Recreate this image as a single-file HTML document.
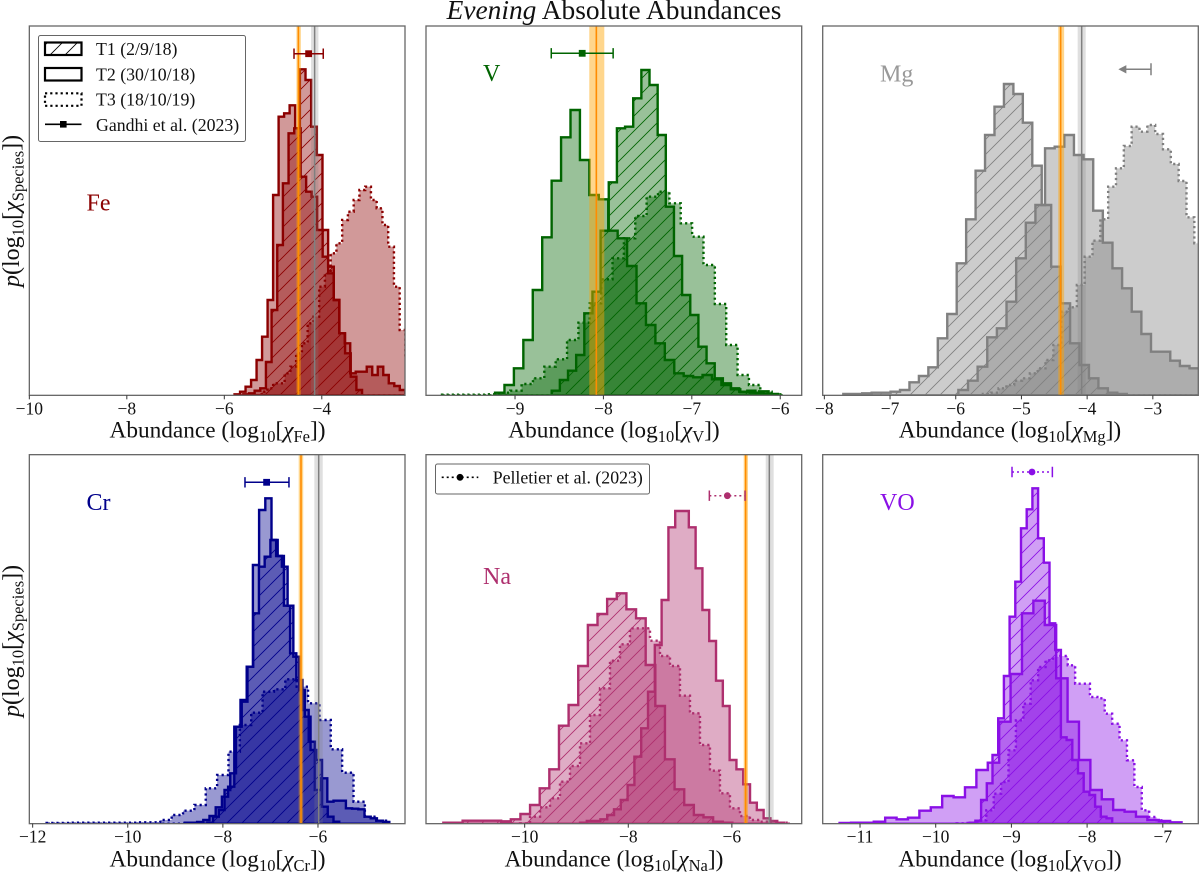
<!DOCTYPE html>
<html lang="en">
<head>
<meta charset="utf-8">
<title>Evening Absolute Abundances</title>
<style>
html,body{margin:0;padding:0;background:#fff;}
svg{display:block;}
text{font-family:"Liberation Serif",serif;fill:#111;}
.tick{font-size:17.5px;}
.xl{font-size:23.3px;}
.yl{font-size:24px;}
.leg{font-size:17.8px;}
.sp{font-size:24px;}
</style>
</head>
<body>
<svg id="figure" xmlns="http://www.w3.org/2000/svg" width="1200" height="873" viewBox="0 0 1200 873">
<defs id="defs"></defs>
<rect x="0" y="0" width="1200" height="873" fill="#fff"/>
<g id="plots"></g>

<text x="614" y="19" text-anchor="middle" font-size="27.4"><tspan font-style="italic">Evening</tspan> Absolute Abundances</text>

<text class="yl" transform="translate(19,287) rotate(-90)"><tspan font-style="italic">p</tspan>(log<tspan dy="4.5" font-size="16.5">10</tspan><tspan dy="-4.5">[</tspan><tspan font-style="italic">χ</tspan><tspan dy="4.5" font-size="16.5">Species</tspan><tspan dy="-4.5">])</tspan></text>
<text class="yl" transform="translate(19,717) rotate(-90)"><tspan font-style="italic">p</tspan>(log<tspan dy="4.5" font-size="16.5">10</tspan><tspan dy="-4.5">[</tspan><tspan font-style="italic">χ</tspan><tspan dy="4.5" font-size="16.5">Species</tspan><tspan dy="-4.5">])</tspan></text>

<text class="xl" x="217.5" y="437.5" text-anchor="middle">Abundance (log<tspan dy="4.5" font-size="16.5">10</tspan><tspan dy="-4.5">[</tspan><tspan font-style="italic">χ</tspan><tspan dy="4.5" font-size="16.5">Fe</tspan><tspan dy="-4.5">])</tspan></text>
<text class="xl" x="614" y="437.5" text-anchor="middle">Abundance (log<tspan dy="4.5" font-size="16.5">10</tspan><tspan dy="-4.5">[</tspan><tspan font-style="italic">χ</tspan><tspan dy="4.5" font-size="16.5">V</tspan><tspan dy="-4.5">])</tspan></text>
<text class="xl" x="1010" y="437.5" text-anchor="middle">Abundance (log<tspan dy="4.5" font-size="16.5">10</tspan><tspan dy="-4.5">[</tspan><tspan font-style="italic">χ</tspan><tspan dy="4.5" font-size="16.5">Mg</tspan><tspan dy="-4.5">])</tspan></text>
<text class="xl" x="217.5" y="866.5" text-anchor="middle">Abundance (log<tspan dy="4.5" font-size="16.5">10</tspan><tspan dy="-4.5">[</tspan><tspan font-style="italic">χ</tspan><tspan dy="4.5" font-size="16.5">Cr</tspan><tspan dy="-4.5">])</tspan></text>
<text class="xl" x="614" y="866.5" text-anchor="middle">Abundance (log<tspan dy="4.5" font-size="16.5">10</tspan><tspan dy="-4.5">[</tspan><tspan font-style="italic">χ</tspan><tspan dy="4.5" font-size="16.5">Na</tspan><tspan dy="-4.5">])</tspan></text>
<text class="xl" x="1010" y="866.5" text-anchor="middle">Abundance (log<tspan dy="4.5" font-size="16.5">10</tspan><tspan dy="-4.5">[</tspan><tspan font-style="italic">χ</tspan><tspan dy="4.5" font-size="16.5">VO</tspan><tspan dy="-4.5">])</tspan></text>

<text class="sp" x="86.5" y="210.5" style="fill:#8b0000">Fe</text>
<text class="sp" x="483" y="81" style="fill:#006400">V</text>
<text class="sp" x="880" y="81.5" style="fill:#999999">Mg</text>
<text class="sp" x="86.5" y="510" style="fill:#00008b">Cr</text>
<text class="sp" x="483" y="584" style="fill:#ae2f6e">Na</text>
<text class="sp" x="880" y="510" style="fill:#8a10e6">VO</text>

<g>
  <rect x="38.5" y="35.5" width="207" height="106" rx="2" fill="#fff" fill-opacity="0.9" stroke="#666" stroke-width="1"/>
  <rect x="45" y="42.5" width="36.5" height="12.5" fill="url(#legend-hatch)" stroke="#000" stroke-width="2.2"/>
  <text class="leg" x="96" y="55">T1 (2/9/18)</text>
  <rect x="45" y="68" width="36.5" height="12.5" fill="none" stroke="#000" stroke-width="2.2"/>
  <text class="leg" x="96" y="80.3">T2 (30/10/18)</text>
  <rect x="45" y="93.3" width="36.5" height="12.5" fill="none" stroke="#000" stroke-width="2.2" stroke-dasharray="2.2 3"/>
  <text class="leg" x="96" y="105.6">T3 (18/10/19)</text>
  <line x1="45" y1="124.3" x2="81.5" y2="124.3" stroke="#000" stroke-width="1.6"/>
  <rect x="60" y="121" width="6.6" height="6.6" fill="#000"/>
  <text class="leg" x="96" y="130.8">Gandhi et al. (2023)</text>
</g>

<g>
  <rect x="435.5" y="464" width="214" height="30" rx="2" fill="#fff" stroke="#666" stroke-width="1"/>
  <line x1="441.7" y1="477.3" x2="478.3" y2="477.3" stroke="#000" stroke-width="1.6" stroke-dasharray="2 3"/>
  <circle cx="460" cy="477.3" r="3.4" fill="#000"/>
  <text class="leg" x="492.7" y="483.3">Pelletier et al. (2023)</text>
</g>
</svg>

<script>
// ---- Fe ----
const feTicks = [-10, -8, -6, -4];
const feStartT1 = -5.61;
const feWidthT1 = 0.116;
const feCountsT1 = [3,6,14,21,100,256,451,636,786,801,978,946,806,721,496,386,286,186,126,56,16];
const feStartT2 = -5.79;
const feWidthT2 = 0.113;
const feCountsT2 = [3,11,26,46,106,176,286,601,836,846,870,801,656,611,596,496,416,366,286,186,156,66,71,71,86,61,86,61,36,28,16];
const feStartT3 = -5.234;
const feWidthT3 = 0.118;
const feCountsT3 = [11,21,36,36,66,86,126,156,216,236,326,366,426,456,526,551,586,616,626,586,561,511,446,326,196,116];
const feOrange = [-4.48, -4.52, -4.43];
const feGray = [-4.147, -4.22, -4.07];
const feLiterature = [-4.27, -4.57, -3.97];

// ---- V ----
const vTicks = [-9, -8, -7, -6];
const vStartT1 = -8.585;
const vWidthT1 = 0.0922;
const vCountsT1 = [14,46,74,121,246,311,494,639,801,806,891,976,931,781,566,418,301,241,146,96,51,36,21,11,14,8,4];
const vStartT2 = -9.226;
const vWidthT2 = 0.1067;
const vCountsT2 = [8,31,81,166,316,474,644,774,856,706,601,588,494,471,388,276,211,156,106,66,58,54,61,48,31,18,10,8,12,4];
const vStartT3 = -9.826;
const vWidthT3 = 0.1286;
const vCountsT3 = [2,2,2,2,3,8,14,34,51,86,108,166,218,276,348,411,471,538,596,611,576,516,476,391,274,151,61,31,11,3];
const vOrange = [-8.08, -8.16, -7.99];
const vLiterature = [-8.24, -8.59, -7.89];

// ---- Mg ----
const mgTicks = [-8, -7, -6, -5, -4, -3];
const mgStartT1 = -7.711;
const mgWidthT1 = 0.1438;
const mgCountsT1 = [4,4,6,8,8,11,16,39,58,84,171,244,396,528,674,781,866,934,904,818,689,571,386,276,156,91,51,21,8,4];
const mgStartT2 = -5.96;
const mgWidthT2 = 0.1466;
const mgCountsT2 = [16,44,86,174,201,281,411,518,571,741,746,781,721,708,554,458,381,321,251,184,131,131,104,88,81];
const mgStartT3 = -5.587;
const mgWidthT3 = 0.1192;
const mgCountsT3 = [4,8,21,31,44,51,66,81,106,151,251,264,331,416,464,528,626,681,748,806,791,811,784,738,694,643,534,456];
const mgOrange = [-4.403, -4.44, -4.35];
const mgGray = [-4.083, -4.144, -4.022];
const mgUpperLimit = [-3.028, -3.525];

// ---- Cr ----
const crTicks = [-12, -10, -8, -6];
const crStartT1 = -8.327;
const crWidthT1 = 0.1206;
const crCountsT1 = [3,21,41,101,151,291,366,471,631,771,801,851,803,771,654,501,401,321,221,191,51,21,6];
const crStartT2 = -8.803;
const crWidthT2 = 0.1304;
const crCountsT2 = [3,3,5,11,23,49,81,111,291,371,471,776,941,976,851,803,654,511,431,341,246,101,136,66,69,69,46,45,43,21,16,9,5];
const crStartT3 = -11.706;
const crWidthT3 = 0.239;
const crCountsT3 = [2,2,3,3,3,3,3,3,4,4,11,26,39,56,106,146,216,296,333,396,403,433,411,361,311,223,153,66,21,9];
const crOrange = [-6.357, -6.406, -6.31];
const crGray = [-5.985, -6.076, -5.9];
const crLiterature = [-7.08, -7.535, -6.61];

// ---- Na ----
const naTicks = [-10, -8, -6];
const naStartT1 = -11.57;
const naWidthT1 = 0.186;
const naCountsT1 = [3,3,9,9,9,9,7,13,29,56,106,163,294,356,473,596,629,674,691,643,616,476,353,193,103,56,26,19,6,3];
const naStartT2 = -8.932;
const naWidthT2 = 0.1313;
const naCountsT2 = [3,8,8,13,26,43,71,116,201,286,396,536,671,889,938,938,889,766,641,548,429,353,191,163,118,63,41,16,8,3];
const naStartT3 = -10.09;
const naWidthT3 = 0.193;
const naCountsT3 = [1,21,49,76,126,173,241,326,406,489,538,586,586,549,503,473,384,331,236,159,91,46,23,11,6,3,3];
const naOrange = [-5.734, -5.772, -5.689];
const naGray = [-5.277, -5.347, -5.193];
const naLiterature = [-6.087, -6.435, -5.746];

// ---- VO ----
const voTicks = [-11, -10, -9, -8, -7];
const voStartT1 = -9.551;
const voWidthT1 = 0.0753;
const voCountsT1 = [3,9,71,121,206,316,443,621,726,886,943,1006,856,783,601,521,259,251,191,151,96,86,51,21,16];
const voStartT2 = -11.27;
const voWidthT2 = 0.1506;
const voCountsT2 = [2,3,3,6,18,13,18,39,49,83,79,109,161,183,306,449,631,669,596,436,306,191,101,73,41,36,21,11,8,4];
const voStartT3 = -9.723;
const voWidthT3 = 0.0978;
const voCountsT3 = [1,2,3,10,40,90,125,220,310,360,430,470,490,500,503,475,420,420,380,376,330,300,250,190,110,40,20,10,5];
const voLiterature = [-8.728, -8.992, -8.459];

const SVG_NS = 'http://www.w3.org/2000/svg';
const plots = document.getElementById('plots');
const defs = document.getElementById('defs');

function make(tag, attrs, parent) {
  const node = document.createElementNS(SVG_NS, tag);
  Object.keys(attrs).forEach(function (k) { node.setAttribute(k, attrs[k]); });
  parent.appendChild(node);
  return node;
}

function addHatch(id, color) {
  const pat = make('pattern', { id: id, patternUnits: 'userSpaceOnUse', width: 15, height: 15 }, defs);
  make('path', { d: 'M-1 1 L1 -1 M0 15 L15 0 M14 16 L16 14', stroke: color, 'stroke-width': 0.85, fill: 'none' }, pat);
}
addHatch('legend-hatch', '#000');

const panels = [
  { key: 'fe', color: '#8b0000', left: 29.33, right: 405, top: 26, bottom: 395.33, xMin: -10, xMax: -2.293, yMax: 1108, ticks: feTicks,
    t1: [feStartT1, feWidthT1, feCountsT1], t2: [feStartT2, feWidthT2, feCountsT2], t3: [feStartT3, feWidthT3, feCountsT3],
    orange: feOrange, gray: feGray, lit: feLiterature, litY: 53.7, litStyle: 'square' },
  { key: 'v', color: '#006400', left: 426, right: 801.7, top: 26, bottom: 395.33, xMin: -10.007, xMax: -5.757, yMax: 1108, ticks: vTicks,
    t1: [vStartT1, vWidthT1, vCountsT1], t2: [vStartT2, vWidthT2, vCountsT2], t3: [vStartT3, vWidthT3, vCountsT3],
    orange: vOrange, gray: null, lit: vLiterature, litY: 53.3, litStyle: 'square' },
  { key: 'mg', color: '#808080', left: 822.7, right: 1198.3, top: 26, bottom: 395.33, xMin: -8.025, xMax: -2.308, yMax: 1108, ticks: mgTicks,
    t1: [mgStartT1, mgWidthT1, mgCountsT1], t2: [mgStartT2, mgWidthT2, mgCountsT2], t3: [mgStartT3, mgWidthT3, mgCountsT3],
    orange: mgOrange, gray: mgGray, lit: null, limit: mgUpperLimit, litY: 69.3 },
  { key: 'cr', color: '#00008b', left: 29.33, right: 405, top: 454.67, bottom: 823.67, xMin: -12.07, xMax: -4.17, yMax: 1107, ticks: crTicks,
    t1: [crStartT1, crWidthT1, crCountsT1], t2: [crStartT2, crWidthT2, crCountsT2], t3: [crStartT3, crWidthT3, crCountsT3],
    orange: crOrange, gray: crGray, lit: crLiterature, litY: 482.3, litStyle: 'square' },
  { key: 'na', color: '#ae2f6e', left: 426, right: 801.7, top: 454.67, bottom: 823.67, xMin: -11.905, xMax: -4.652, yMax: 1107, ticks: naTicks,
    t1: [naStartT1, naWidthT1, naCountsT1], t2: [naStartT2, naWidthT2, naCountsT2], t3: [naStartT3, naWidthT3, naCountsT3],
    orange: naOrange, gray: naGray, lit: naLiterature, litY: 495.7, litStyle: 'circle' },
  { key: 'vo', color: '#8a10e6', left: 822.7, right: 1198.3, top: 454.67, bottom: 823.67, xMin: -11.493, xMax: -6.531, yMax: 1107, ticks: voTicks,
    t1: [voStartT1, voWidthT1, voCountsT1], t2: [voStartT2, voWidthT2, voCountsT2], t3: [voStartT3, voWidthT3, voCountsT3],
    orange: null, gray: null, lit: voLiterature, litY: 472, litStyle: 'circle' }
];

function histPath(series, sx, sy) {
  const start = series[0], width = series[1], counts = series[2];
  let d = 'M' + sx(start).toFixed(2) + ' ' + sy(0).toFixed(2);
  counts.forEach(function (c, i) {
    d += 'L' + sx(start + i * width).toFixed(2) + ' ' + sy(c).toFixed(2);
    d += 'L' + sx(start + (i + 1) * width).toFixed(2) + ' ' + sy(c).toFixed(2);
  });
  d += 'L' + sx(start + counts.length * width).toFixed(2) + ' ' + sy(0).toFixed(2) + 'Z';
  return d;
}

panels.forEach(function (p) {
  const sx = function (v) { return p.left + (v - p.xMin) / (p.xMax - p.xMin) * (p.right - p.left); };
  const sy = function (c) { return p.bottom - c / p.yMax * (p.bottom - p.top); };

  const group = make('g', {}, plots);
  
  

  const clip = make('clipPath', { id: 'clip-' + p.key }, defs);
  make('rect', { x: p.left, y: p.top, width: p.right - p.left, height: p.bottom - p.top }, clip);
  addHatch('hatch-' + p.key, p.color);

  const marks = make('g', { 'clip-path': 'url(#clip-' + p.key + ')' }, group);
  
  

  // T1: hatched histogram
  const t1Fill = make('path', { d: histPath(p.t1, sx, sy), fill: p.color, 'fill-opacity': 0.4, stroke: 'none' }, marks);
  
  
  const t1 = make('path', { d: histPath(p.t1, sx, sy), fill: 'url(#hatch-' + p.key + ')', stroke: p.color, 'stroke-width': 2.4 }, marks);
  
  

  // T2: solid histogram
  const t2 = make('path', { d: histPath(p.t2, sx, sy), fill: p.color, 'fill-opacity': 0.4, stroke: p.color, 'stroke-width': 2.4 }, marks);
  
  

  // T3: dotted histogram
  const t3 = make('path', { d: histPath(p.t3, sx, sy), fill: p.color, 'fill-opacity': 0.4, stroke: p.color, 'stroke-width': 2.4, 'stroke-dasharray': '2.2 3' }, marks);
  
  

  // Reference value bands
  if (p.gray) {
    const band = make('rect', { x: sx(p.gray[1]), y: p.top, width: sx(p.gray[2]) - sx(p.gray[1]), height: p.bottom - p.top, fill: '#808080', 'fill-opacity': 0.25 }, marks);
    
    
    const line = make('line', { x1: sx(p.gray[0]), x2: sx(p.gray[0]), y1: p.top, y2: p.bottom, stroke: '#808080', 'stroke-width': 1.5 }, marks);
    
    
  }
  if (p.orange) {
    const band = make('rect', { x: sx(p.orange[1]), y: p.top, width: sx(p.orange[2]) - sx(p.orange[1]), height: p.bottom - p.top, fill: '#ffa500', 'fill-opacity': 0.45 }, marks);
    
    
    const line = make('line', { x1: sx(p.orange[0]), x2: sx(p.orange[0]), y1: p.top, y2: p.bottom, stroke: '#ff8c00', 'stroke-width': 1.6 }, marks);
    
    
  }

  // Literature error bar
  if (p.lit) {
    const litGroup = make('g', {}, marks);
    
    
    const lineAttrs = { x1: sx(p.lit[1]), x2: sx(p.lit[2]), y1: p.litY, y2: p.litY, stroke: p.color, 'stroke-width': 1.5 };
    if (p.litStyle === 'circle') lineAttrs['stroke-dasharray'] = '2 3';
    make('line', lineAttrs, litGroup);
    [p.lit[1], p.lit[2]].forEach(function (v) {
      make('line', { x1: sx(v), x2: sx(v), y1: p.litY - 5.2, y2: p.litY + 5.2, stroke: p.color, 'stroke-width': 1.5 }, litGroup);
    });
    if (p.litStyle === 'circle') {
      make('circle', { cx: sx(p.lit[0]), cy: p.litY, r: 3.4, fill: p.color }, litGroup);
    } else {
      make('rect', { x: sx(p.lit[0]) - 3.4, y: p.litY - 3.4, width: 6.8, height: 6.8, fill: p.color }, litGroup);
    }
  }

  // Upper-limit arrow
  if (p.limit) {
    const limGroup = make('g', {}, marks);
    
    
    const capX = sx(p.limit[0]), tipX = sx(p.limit[1]);
    make('line', { x1: capX, x2: tipX + 5, y1: p.litY, y2: p.litY, stroke: p.color, 'stroke-width': 1.5 }, limGroup);
    make('line', { x1: capX, x2: capX, y1: p.litY - 6, y2: p.litY + 6, stroke: p.color, 'stroke-width': 1.5 }, limGroup);
    make('path', { d: 'M' + tipX + ' ' + p.litY + 'L' + (tipX + 8) + ' ' + (p.litY - 4.2) + 'L' + (tipX + 8) + ' ' + (p.litY + 4.2) + 'Z', fill: p.color }, limGroup);
  }

  // Frame
  const frame = make('rect', { x: p.left, y: p.top, width: p.right - p.left, height: p.bottom - p.top, fill: 'none', stroke: '#666', 'stroke-width': 1.3 }, group);
  
  

  // Ticks
  const labelY = p.bottom + 19;
  p.ticks.forEach(function (t) {
    const tick = make('line', { x1: sx(t), x2: sx(t), y1: p.bottom, y2: p.bottom + 4, stroke: '#333', 'stroke-width': 1 }, group);
    
    
    const label = make('text', { x: sx(t), y: labelY, 'text-anchor': 'middle', class: 'tick' }, group);
    label.textContent = String(t).replace('-', '\u2212');
    
    
  });
});
</script>
</body>
</html>
